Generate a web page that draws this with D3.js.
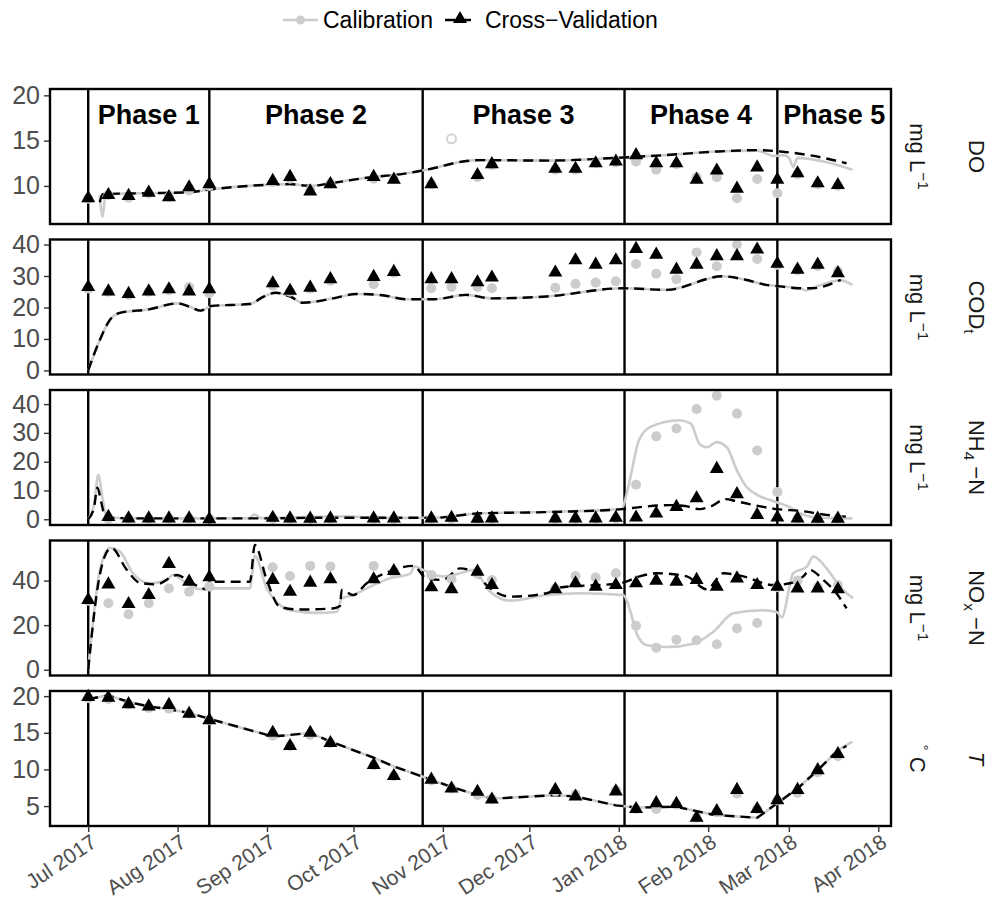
<!DOCTYPE html>
<html>
<head>
<meta charset="utf-8">
<script src="https://cdn.jsdelivr.net/npm/d3@7"></script>
<style>
body { margin: 0; background: #fff; }
svg { font-family: "Liberation Sans", Arial, Helvetica, sans-serif; }
</style>
</head>
<body>
<div id="chart"></div>
<script>

// fechas de muestreo (observaciones)
var sampleDates = ["2017-07-01","2017-07-08","2017-07-15","2017-07-22","2017-07-29","2017-08-05","2017-08-12",
	"2017-09-03","2017-09-09","2017-09-16","2017-09-23","2017-10-08","2017-10-15","2017-10-28","2017-11-04",
	"2017-11-13","2017-11-18","2017-12-10","2017-12-17","2017-12-24","2017-12-31","2018-01-07","2018-01-14",
	"2018-01-21","2018-01-28","2018-02-04","2018-02-11","2018-02-18","2018-02-25","2018-03-04","2018-03-11","2018-03-18"];

// observaciones: calibracion (gris) y validacion cruzada (triangulos)
var doCal  = [8.6,9.0,8.7,9.2,8.8,9.5,10.0,10.4,10.8,9.6,10.3,10.8,10.8,10.2,null,11.0,12.3,11.8,11.8,12.5,12.6,12.7,11.8,12.4,10.95,10.95,8.65,10.77,9.2,11.3,10.2,10.0];
var doCv   = [8.65,9.0,8.9,9.26,8.76,9.86,10.2,10.55,11.0,9.4,10.2,11.0,10.7,10.2,null,11.2,12.4,11.9,11.9,12.5,12.7,13.4,12.5,12.5,10.7,11.7,9.7,12.05,10.7,11.4,10.3,10.1];
var doOutlier = [["2017-11-04", 15.2]];

var codCal = [26.0,25.0,24.0,25.0,25.5,26.5,24.5,26.9,25.0,26.0,28.5,27.4,31.0,26.1,26.5,26.5,26.1,26.3,27.5,27.9,28.3,33.8,30.7,29.0,37.5,33.1,40.0,35.4,33.5,31.8,33.2,31.5];
var codCv  = [26.5,25.1,24.3,25.1,25.8,25.1,25.8,27.7,25.3,26.3,29.0,29.7,31.3,29.0,29.0,28.0,29.5,31.1,35.0,33.6,35.0,38.6,36.8,32.0,33.6,36.3,36.3,38.4,33.9,32.0,33.6,30.9];

var nh4Cal = [null,0.2,0.2,0.2,0.2,0.2,0.2,0.2,0.2,0.2,0.2,0.2,0.2,0.2,0.2,0.2,0.2,0.2,0.2,0.2,0.3,12.0,28.8,31.5,38.3,42.9,36.7,23.9,9.5,0.3,0.2,0.2];
var nh4Cv  = [null,0.8,0.3,0.3,0.3,0.3,0.0,0.5,0.3,0.2,0.3,0.3,0.3,0.3,0.5,0.2,0.3,0.3,0.3,0.3,0.5,0.6,2.0,4.3,7.3,17.5,8.7,1.5,0.6,0.3,0.2,0.2];

var noxCal = [31.0,29.8,24.9,29.8,36.5,35.0,37.3,46.0,42.1,46.6,46.3,46.6,43.5,42.5,40.6,43.0,40.3,36.5,42.1,41.4,43.3,19.7,9.9,13.5,13.2,11.4,18.5,21.0,37.0,40.0,37.0,38.0];
var noxCv  = [31.3,38.3,29.5,33.5,47.5,39.5,41.5,40.3,35.0,39.1,40.6,40.6,44.3,37.0,36.1,44.0,38.0,36.1,38.8,37.3,38.0,38.8,40.0,39.5,40.3,37.3,41.0,38.0,37.3,36.5,36.5,36.1];

var tCal = [19.7,19.6,18.9,18.4,18.3,17.6,16.7,14.6,13.2,14.7,13.6,10.6,9.1,8.5,7.4,6.5,6.0,7.0,6.6,null,7.2,4.6,4.6,5.2,3.4,4.2,6.7,4.6,5.8,6.8,9.6,11.8];
var tCv  = [19.9,19.8,18.9,18.6,18.8,17.6,16.7,15.0,13.2,15.0,13.6,10.6,9.1,8.6,7.4,6.95,5.9,7.2,6.3,null,7.0,4.6,5.4,5.3,3.4,4.3,7.2,4.6,5.8,7.2,9.9,12.1];

// simulaciones: [dias desde simStart, valor]
var simStart = "2017-07-01";
var doSimCal = [[4,9.0],[5,6.6],[6,9.1],[20,9.2],[35,9.3],[42,9.6],[64,10.15],[70,10.2],[77,10.0],[84,10.3],[99,11.0],[106,11.2],[119,11.9],[130,12.7],[136,12.85],[160,12.8],[183,13.1],[200,13.4],[218,13.8],[232,13.9],[238,13.3],[241,13.4],[243,13.15],[244.5,12.1],[246,13.1],[255,12.7],[265,11.8]];
var doSimCv  = [[4,8.2],[5,9.1],[20,9.2],[35,9.3],[42,9.6],[64,10.15],[70,10.2],[77,10.0],[84,10.3],[99,11.0],[106,11.2],[119,11.9],[130,12.7],[136,12.85],[160,12.8],[183,13.1],[200,13.4],[218,13.8],[232,13.95],[240,13.8],[250,13.4],[263,12.5]];

var codSimCal = [[0,0],[4,9.6],[7.5,16],[11,18.3],[21,19.4],[31,21.3],[35,20.3],[39,19.0],[43,20.5],[56,21.1],[61,23.5],[65,24.7],[70,23.5],[74.5,21.5],[85,22.9],[93,24.3],[102,23.9],[110.5,22.6],[120,22.6],[131,24.0],[140,22.9],[159,23.5],[185.5,26.1],[200.6,25.6],[220,29.9],[228,28.8],[235,27.2],[240,26.7],[247,26.1],[249,25.4],[251,26.1],[261,28.6],[265,27.2]];
var codSimCv  = [[0,0],[4,9.6],[7.5,16],[11,18.3],[21,19.4],[31,21.3],[35,20.3],[39,19.0],[43,20.5],[56,21.1],[61,23.5],[65,24.7],[70,23.5],[74.5,21.5],[85,22.9],[93,24.3],[102,23.9],[110.5,22.6],[120,22.6],[131,24.0],[140,22.9],[159,23.5],[185.5,26.1],[200.6,25.6],[220,29.9],[228,28.8],[235,27.2],[240,26.7],[247,26.1],[251,26.1],[261,28.8]];

var nh4SimCal = [[0,0],[2,5],[3.5,15.4],[5,7],[6.5,0.5],[20,0.3],[56,0.3],[57.5,1.7],[60,0.4],[75,0.8],[90,1.0],[100,0.4],[120,0.5],[135,2.0],[160,2.6],[185,3.5],[187,9.9],[191,27.4],[195,32.1],[205,34.4],[209,33.2],[212,26.2],[214.5,25.0],[218,26.8],[221.5,25.0],[225,16.9],[228.4,11.1],[232,8.5],[239,5.8],[243.5,4.1],[247,2.0],[253,0.6],[263,0.3],[265,0.3]];
var nh4SimCv  = [[0,0],[2,4],[3.2,11],[4.5,6],[6,0.5],[20,0.3],[60,0.3],[80,0.5],[120,0.5],[135,2.0],[160,2.5],[185,3.5],[192,4.3],[202,4.9],[207,4.6],[212,3.5],[216,4.5],[221,7.0],[225,6.2],[232,4.7],[239,3.5],[247,2.9],[256,1.5],[263,0.9]];

var noxSimCal = [[0,0],[4.1,44.8],[7.5,54.6],[11,53],[15.5,43.3],[21.4,38.8],[27.2,40.3],[29.4,42.5],[34.1,38.8],[38.7,36.1],[43.3,36.5],[56.1,36.5],[57.8,51.1],[61.9,36.5],[65.3,30.5],[69.9,26.7],[79.2,25.5],[86.2,25.9],[87.9,32],[91.9,33.5],[96.6,36.5],[104.6,41],[111.6,43],[113.3,46.3],[116.1,44.8],[123,41.8],[128.9,43.3],[133.4,44.8],[139.4,35],[146.3,31],[159,33.5],[170.6,34.3],[185.6,33.5],[187.9,26.7],[190.2,16.2],[193.7,11],[200.6,10.2],[209.9,11.7],[216.8,17],[223.7,25.3],[234.1,26.7],[238.8,25.9],[240.5,23.5],[244.5,43.3],[249.2,46.3],[251.5,50.8],[256.1,45.5],[260.7,37.3],[265.3,32]];
var noxSimCv  = [[0,0],[3.5,38.8],[6.4,52.8],[8.1,54.6],[13.3,45],[17.9,39],[23.7,38.3],[30.7,42.5],[36.4,38.5],[41.1,36.1],[43.4,39.5],[56.1,39.5],[57.8,56],[61.9,40.3],[66.5,28.2],[73.4,27],[84.9,27.5],[87.3,28.6],[87.9,35.8],[91.9,33.5],[96.6,38.8],[104.6,44.1],[112.7,46.6],[117.4,40.9],[123,40.3],[128.9,45.5],[133.4,44.1],[139.4,36.5],[146.3,32.8],[159,34.3],[163.6,36.9],[184.4,38.8],[191.3,41.9],[197.2,43.3],[207.6,41.9],[214.5,36.1],[220.3,43.3],[227.2,41.9],[237.6,38],[243.4,38.8],[248,41.9],[250.3,44.8],[254.9,40.3],[259.5,34.3],[263,27.5]];

var tSimCal = [[0,19.6],[7,20.1],[14,19.2],[21,18.6],[28,18.2],[35,17.7],[42,16.9],[64,14.5],[70,14.7],[77,15.0],[84,13.8],[99,11.6],[106,10.4],[119,8.6],[126,7.6],[135,6.5],[140,6.0],[162,6.5],[169,6.3],[183,5.1],[190,4.8],[204,4.9],[217,3.8],[232,3.4],[239,5.4],[246,7.4],[253,9.9],[260,12.6],[265,13.8]];
var tSimCv  = [[0,19.6],[7,20.1],[14,19.2],[21,18.6],[28,18.2],[35,17.7],[42,16.9],[64,14.5],[70,14.7],[77,15.0],[84,13.8],[99,11.6],[106,10.4],[119,8.6],[126,7.6],[135,6.5],[140,6.0],[162,6.5],[169,6.3],[183,5.1],[190,4.8],[204,4.9],[217,3.8],[232,3.4],[239,5.4],[246,7.4],[253,9.9],[260,12.6],[263,13.2]];

// fases
var phaseStarts = ["2017-07-01","2017-08-12","2017-10-25","2018-01-03","2018-02-25"];
var phaseNames = ["Phase 1","Phase 2","Phase 3","Phase 4","Phase 5"];

// ejes
var monthTicks = ["2017-07-01","2017-08-01","2017-09-01","2017-10-01","2017-11-01","2017-12-01","2018-01-01","2018-02-01","2018-03-01","2018-04-01"];
var doTicks = [10,15,20], codTicks = [0,10,20,30,40], nh4Ticks = [0,10,20,30,40], noxTicks = [0,20,40], tTicks = [5,10,15,20];
var legendNames = ["Calibration", "Cross\u2212Validation"];

// ---------------------------------------------------------------
var parseDate = d3.timeParse("%Y-%m-%d");
var start = parseDate(simStart);
function simDate(days) { return d3.timeHour.offset(start, Math.round(days * 24)); }

var svg_w = 995, svg_h = 900;
var left = 50, right = 891;
var panel_h = 135, panel_gap = 15.5, first_top = 89;
var grey = "#cccccc";

var svg = d3.select("#chart").append("svg")
	.attr("width", svg_w)
	.attr("height", svg_h);

var x = d3.scaleTime()
	.domain([new Date(2017, 5, 17, 18), new Date(2018, 3, 5, 10)])
	.range([left, right]);

var panels = [
	{cal: doCal, cv: doCv, simCal: doSimCal, simCv: doSimCv, dom: [5.8, 20.7], ticks: doTicks,
		unit: [["mg L", 0], ["\u22121", 1]], name: [["DO", 0]], curve: d3.curveMonotoneX},
	{cal: codCal, cv: codCv, simCal: codSimCal, simCv: codSimCv, dom: [-1.3, 41.6], ticks: codTicks,
		unit: [["mg L", 0], ["\u22121", 1]], name: [["COD", 0], ["t", -1]], curve: d3.curveMonotoneX},
	{cal: nh4Cal, cv: nh4Cv, simCal: nh4SimCal, simCv: nh4SimCv, dom: [-2.0, 44.9], ticks: nh4Ticks,
		unit: [["mg L", 0], ["\u22121", 1]], name: [["NH", 0], ["4", -1], [" \u2212N", 0]], curve: d3.curveMonotoneX},
	{cal: noxCal, cv: noxCv, simCal: noxSimCal, simCv: noxSimCv, dom: [-2.6, 58], ticks: noxTicks,
		unit: [["mg L", 0], ["\u22121", 1]], name: [["NO", 0], ["x", -1], [" \u2212N", 0]], curve: d3.curveMonotoneX},
	{cal: tCal, cv: tCv, simCal: tSimCal, simCv: tSimCv, dom: [2.28, 20.7], ticks: tTicks,
		unit: [["\u00b0", 1], [" C", 0]], name: [["T", 2]], curve: d3.curveLinear}
];

// texto con sub/superindices
function richText(sel, parts) {
	var shift = 0;
	parts.forEach(function(p) {
		var want = p[1] == 1 ? -8 : (p[1] == -1 ? 5 : 0);
		var t = sel.append("tspan").attr("dy", want - shift).text(p[0]);
		shift = want;
		if (p[1] == 1 || p[1] == -1) t.attr("font-size", "0.7em");
		if (p[1] == 2) t.attr("font-style", "italic");
	});
}

var triangle = d3.symbol().type(d3.symbolTriangle).size(85);

panels.forEach(function(p, i) {
	var top = first_top + i * (panel_h + panel_gap);
	var bottom = top + panel_h;
	var y = d3.scaleLinear().domain(p.dom).range([bottom, top]);
	var g = svg.append("g");

	// eje y
	var ya = g.append("g")
		.attr("transform", "translate(" + left + ",0)")
		.call(d3.axisLeft(y).tickValues(p.ticks).tickSize(6).tickPadding(4));
	ya.select(".domain").remove();
	ya.selectAll("line").attr("stroke", "#333").attr("stroke-width", 1.4);
	ya.selectAll("text").attr("fill", "#4d4d4d").attr("font-size", 25).attr("font-family", null);

	// lineas de fase
	g.selectAll(".phase").data(phaseStarts).enter().append("line")
		.attr("x1", function(d) { return x(parseDate(d)); })
		.attr("x2", function(d) { return x(parseDate(d)); })
		.attr("y1", top).attr("y2", bottom)
		.attr("stroke", "#000").attr("stroke-width", 2.4);

	var line = d3.line()
		.x(function(d) { return x(simDate(d[0])); })
		.y(function(d) { return y(d[1]); })
		.curve(p.curve);

	g.append("path").attr("d", line(p.simCal))
		.attr("fill", "none").attr("stroke", grey).attr("stroke-width", 2.6);
	g.append("path").attr("d", line(p.simCv))
		.attr("fill", "none").attr("stroke", "#000").attr("stroke-width", 2.4)
		.attr("stroke-dasharray", "10,6");

	// puntos de calibracion
	g.selectAll(".cal").data(p.cal.map(function(v, k) { return [sampleDates[k], v]; })
			.filter(function(d) { return d[1] != null; }))
		.enter().append("circle")
		.attr("cx", function(d) { return x(parseDate(d[0])); })
		.attr("cy", function(d) { return y(d[1]); })
		.attr("r", 5)
		.attr("fill", grey);

	if (i == 0) {
		g.selectAll(".outl").data(doOutlier).enter().append("circle")
			.attr("cx", function(d) { return x(parseDate(d[0])); })
			.attr("cy", function(d) { return y(d[1]); })
			.attr("r", 4.5)
			.attr("fill", "none").attr("stroke", "#d4d4d4").attr("stroke-width", 2);
	}

	// triangulos de validacion cruzada
	g.selectAll(".cv").data(p.cv.map(function(v, k) { return [sampleDates[k], v]; })
			.filter(function(d) { return d[1] != null; }))
		.enter().append("path")
		.attr("d", triangle)
		.attr("transform", function(d) { return "translate(" + x(parseDate(d[0])) + "," + y(d[1]) + ")"; })
		.attr("fill", "#000");

	// borde
	g.append("rect")
		.attr("x", left).attr("y", top)
		.attr("width", right - left).attr("height", panel_h)
		.attr("fill", "none").attr("stroke", "#000").attr("stroke-width", 2.4);

	// etiquetas a la derecha
	var yc = (top + bottom) / 2;
	var u = g.append("text")
		.attr("transform", "translate(910," + yc + ") rotate(90)")
		.attr("text-anchor", "middle").attr("font-size", 22).attr("fill", "#1a1a1a");
	richText(u, p.unit);
	var n = g.append("text")
		.attr("transform", "translate(969," + yc + ") rotate(90)")
		.attr("text-anchor", "middle").attr("font-size", 22).attr("fill", "#1a1a1a");
	richText(n, p.name);

	// nombres de fases (solo primer panel)
	if (i == 0) {
		var bounds = phaseStarts.map(function(d) { return x(parseDate(d)); }).concat([right]);
		g.selectAll(".pname").data(phaseNames).enter().append("text")
			.attr("x", function(d, k) { return (bounds[k] + bounds[k + 1]) / 2; })
			.attr("y", 124)
			.attr("text-anchor", "middle")
			.attr("font-size", 27).attr("font-weight", "bold")
			.text(function(d) { return d; });
	}

	// eje x (solo ultimo panel)
	if (i == panels.length - 1) {
		var xa = g.append("g")
			.attr("transform", "translate(0," + bottom + ")")
			.call(d3.axisBottom(x).tickValues(monthTicks.map(parseDate))
				.tickFormat(d3.timeFormat("%b %Y")).tickSize(6).tickPadding(3));
		xa.select(".domain").remove();
		xa.selectAll("line").attr("stroke", "#333").attr("stroke-width", 1.4);
		xa.selectAll("text")
			.attr("fill", "#4d4d4d").attr("font-size", 21).attr("font-family", null)
			.attr("text-anchor", "end")
			.attr("x", 0).attr("y", 0)
			.attr("transform", "translate(1,7) rotate(-34)")
			.attr("dy", "0.71em");
	}
});

// leyenda
var legend = svg.append("g");
legend.append("line").attr("x1", 283).attr("x2", 318).attr("y1", 20).attr("y2", 20)
	.attr("stroke", grey).attr("stroke-width", 2.6);
legend.append("circle").attr("cx", 300.5).attr("cy", 20).attr("r", 4.5).attr("fill", grey);
legend.append("text").attr("x", 323).attr("y", 28).attr("font-size", 23).text(legendNames[0]);

legend.append("line").attr("x1", 443).attr("x2", 477).attr("y1", 20).attr("y2", 20)
	.attr("stroke", "#000").attr("stroke-width", 2.4).attr("stroke-dasharray", "10,6").attr("stroke-dashoffset", -2);
legend.append("path").attr("d", triangle).attr("transform", "translate(460,19)").attr("fill", "#000");
legend.append("text").attr("x", 485).attr("y", 28).attr("font-size", 23).text(legendNames[1]);

</script>
</body>
</html>
